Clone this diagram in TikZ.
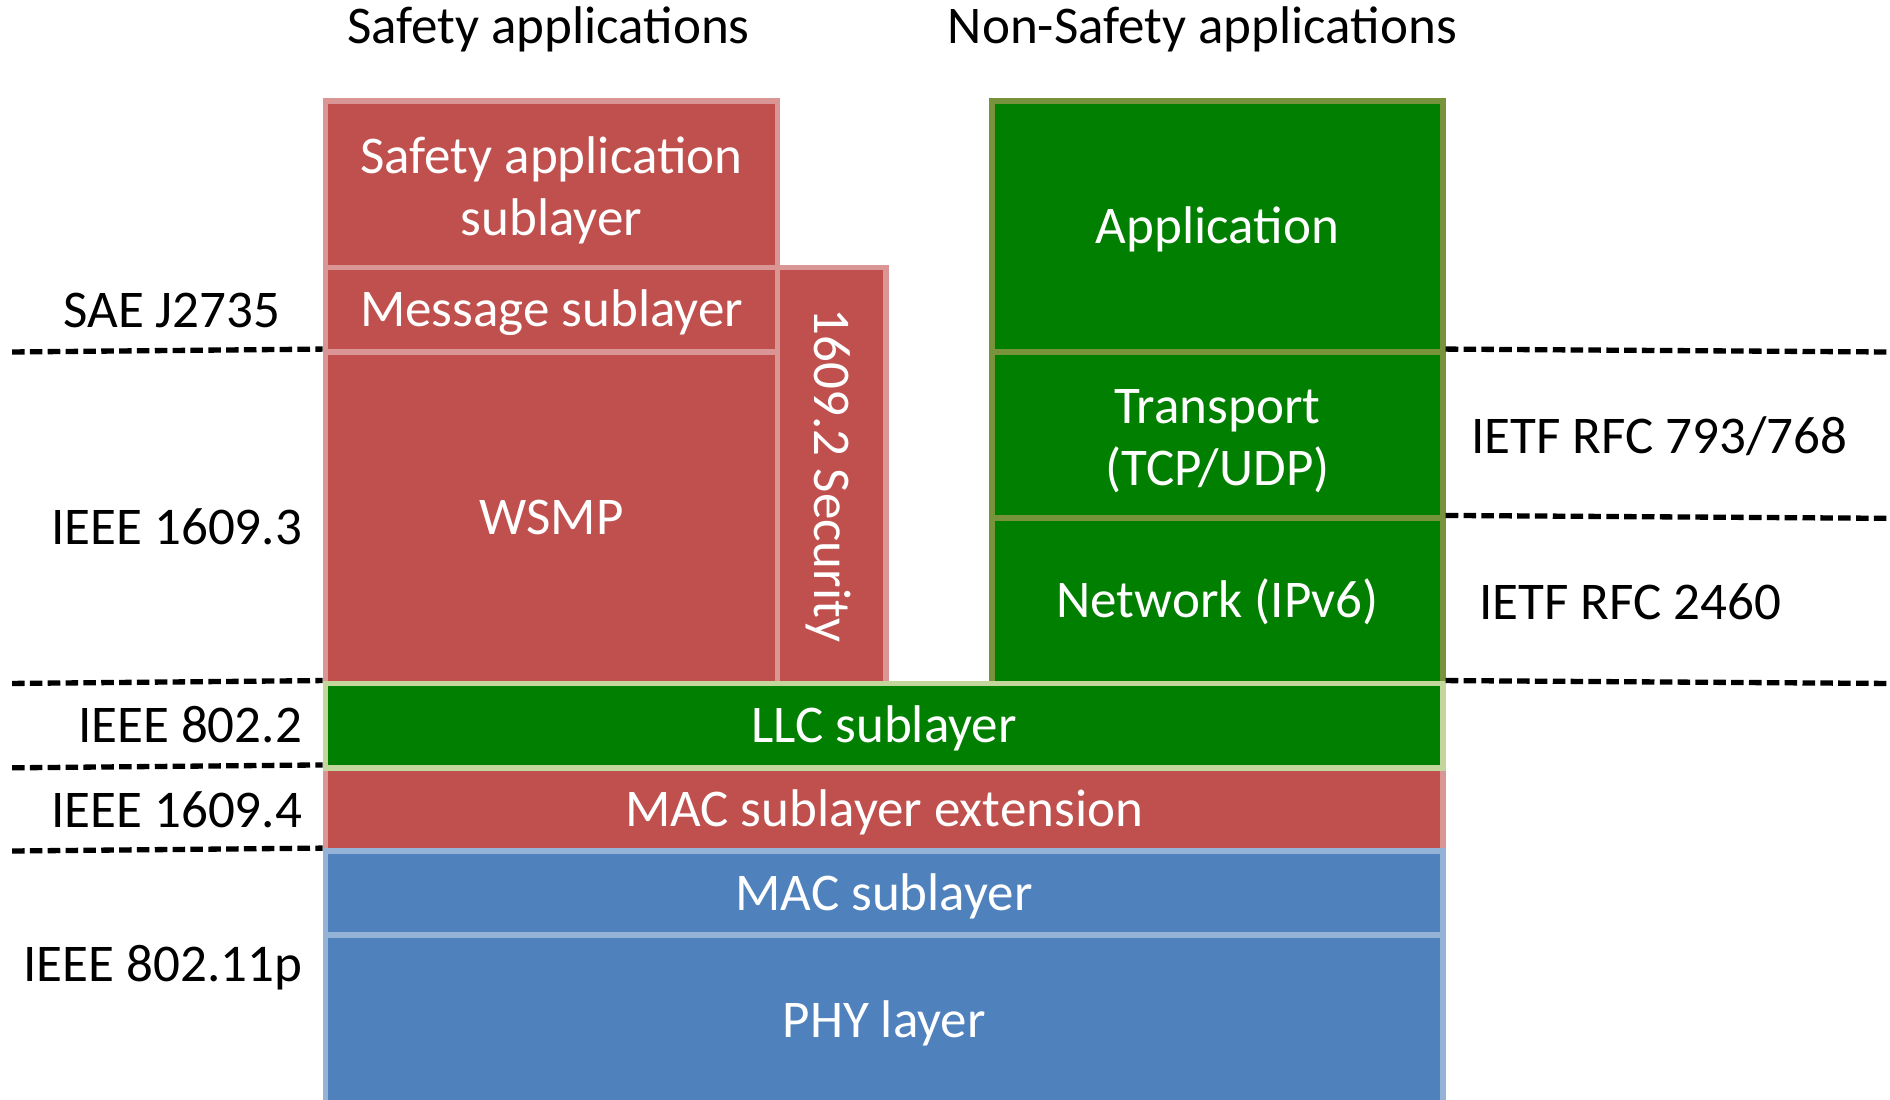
\documentclass[tikz,border=0pt]{standalone}
\usepackage{fontspec}
\setmainfont{Carlito}
\definecolor{layred}{HTML}{C0504D}
\definecolor{layredline}{HTML}{D99694}
\definecolor{laygreen}{HTML}{007F00}
\definecolor{laygreenline}{HTML}{77933C}
\definecolor{llcline}{HTML}{C3D69B}
\definecolor{layblue}{HTML}{4F81BD}
\definecolor{laybline}{HTML}{95B3D7}
\tikzset{
  txt/.style={inner sep=0pt, font=\fontsize{22}{26}\selectfont},
  oneline/.style={text height=19.8pt, text depth=5.7pt},
  box/.style={txt, draw, line width=2.4pt, text=white, align=center},
  redbox/.style={box, fill=layred, draw=layredline},
  greenbox/.style={box, fill=laygreen, draw=laygreenline},
  llcbox/.style={box, fill=laygreen, draw=llcline},
  bluebox/.style={box, fill=layblue, draw=laybline},
  boxtext/.style={txt, text=white, align=center},
  side/.style={txt, oneline, text=black},
  sep/.style={line width=2.2pt, dash pattern=on 5.2pt off 2.2pt},
}
\begin{document}
\begin{tikzpicture}[x=0.5pt, y=-0.5pt]
\useasboundingbox (0,0) rectangle (1568,912);
\clip (0,0) rectangle (1568,912);

% column headings
\node[side] (hsafe) at (455,22) {Safety applications};
\node[side] (hnon) at (997.5,22) {Non-Safety applications};

% safety stack
\node[redbox, minimum width=187.5pt, minimum height=69pt] (sapp) at (457.5,153) {};
\node[boxtext] (sapptxt) at ([yshift=-2.5pt]sapp.center) {Safety application\\sublayer};
\node[redbox, oneline, minimum width=187.5pt, minimum height=35pt] (msg) at (457.5,257) {Message sublayer};
\node[redbox, oneline, minimum width=187.5pt, minimum height=137.5pt] (wsmp) at (457.5,429.5) {WSMP};
\node[redbox, minimum width=45pt, minimum height=172.5pt] (sec) at (690,394.5) {};
\node[side, text=white, rotate=-90] (sectxt) at (sec.center) {1609.2 Security};

% non-safety stack
\node[greenbox, oneline, minimum width=187pt, minimum height=104pt] (app) at (1010,188) {Application};
\node[greenbox, minimum width=187pt, minimum height=69pt] (trans) at (1010,361) {};
\node[boxtext] (transtxt) at ([yshift=-2.5pt]trans.center) {Transport\\(TCP/UDP)};
\node[greenbox, oneline, minimum width=187pt, minimum height=68.5pt] (net) at (1010,498.5) {Network (IPv6)};

% shared lower layers
\node[redbox, oneline, minimum width=463.5pt, minimum height=34.5pt] (macx) at (733.5,671.5) {MAC sublayer extension};
\node[llcbox, oneline, minimum width=463.5pt, minimum height=35pt] (llc) at (733.5,602) {LLC sublayer};
\node[bluebox, oneline, minimum width=463.5pt, minimum height=35pt] (mac) at (733.5,741) {MAC sublayer};
\node[bluebox, oneline, minimum width=463.5pt, minimum height=71pt] (phy) at (733.5,847) {PHY layer};

% standards boundaries, left
\coordinate (l1) at (10,292);
\coordinate (l2) at (10,567);
\coordinate (l3) at (10,637);
\coordinate (l4) at (10,706);
\draw[sep] (l1) -- (wsmp.north west);
\draw[sep] (l2) -- (llc.north west);
\draw[sep] (l3) -- (macx.north west);
\draw[sep] (l4) -- (mac.north west);

% standards boundaries, right
\coordinate (r1) at (1565,292);
\coordinate (r2) at (1565,430);
\coordinate (r3) at (1565,567);
\draw[sep] (trans.north east) -- (r1);
\draw[sep] (net.north east) -- (r2);
\draw[sep] (llc.north east) -- (r3);

% standard names
\node[side, anchor=east] (sae) at (233,258) {SAE J2735};
\node[side, anchor=east] (i3) at (251,438) {IEEE 1609.3};
\node[side, anchor=east] (i22) at (251,602) {IEEE 802.2};
\node[side, anchor=east] (i4) at (251,672) {IEEE 1609.4};
\node[side, anchor=east] (i11) at (251,800) {IEEE 802.11p};
\node[side, anchor=west] (rfc1) at (1220,362) {IETF RFC 793/768};
\node[side, anchor=west] (rfc2) at (1227,500) {IETF RFC 2460};
\end{tikzpicture}
\end{document}
